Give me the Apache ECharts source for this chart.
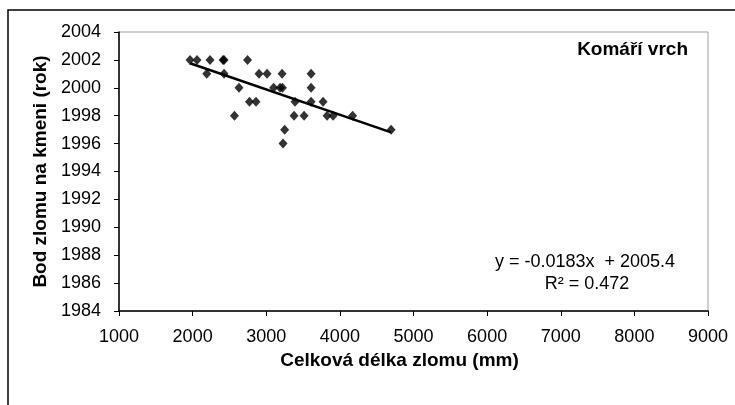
<!DOCTYPE html>
<html>
<head>
<meta charset="utf-8">
<script src="https://cdn.jsdelivr.net/npm/echarts@6/dist/echarts.min.js"></script>
<style>html,body{margin:0;padding:0;background:#fff;}#c{width:735px;height:405px;}</style>
</head>
<body>
<div id="c"></div>
<script>
// Celková délka zlomu (mm)
var breakLength = [1965, 2060, 2236, 2413, 2427, 2746,
                   2192, 2427, 2902, 3011, 3215, 3609,
                   2630, 3100, 3188, 3220, 3609,
                   2772, 2861, 3391, 3609, 3772,
                   2568, 3378, 3514, 3826, 3908, 4173,
                   3250, 4696,
                   3228];
// Bod zlomu na kmeni (rok)
var breakYear = [2002, 2002, 2002, 2002, 2002, 2002,
                 2001, 2001, 2001, 2001, 2001, 2001,
                 2000, 2000, 2000, 2000, 2000,
                 1999, 1999, 1999, 1999, 1999,
                 1998, 1998, 1998, 1998, 1998, 1998,
                 1997, 1997,
                 1996];
var xTicks = [1000, 2000, 3000, 4000, 5000, 6000, 7000, 8000, 9000];
var yTicks = [1984, 1986, 1988, 1990, 1992, 1994, 1996, 1998, 2000, 2002, 2004];
var chartLabel = 'Komáří vrch';
var equationText = 'y = -0.0183x  + 2005.4';
var r2Text = 'R² = 0.472';

var points = breakLength.map(function (x, i) { return [x, breakYear[i]]; });

// least-squares trend line from the data
var n = points.length, sx = 0, sy = 0, sxx = 0, sxy = 0;
points.forEach(function (p) { sx += p[0]; sy += p[1]; sxx += p[0] * p[0]; sxy += p[0] * p[1]; });
var slope = (n * sxy - sx * sy) / (n * sxx - sx * sx);
var intercept = (sy - slope * sx) / n;
var xMin = Math.min.apply(null, breakLength), xMax = Math.max.apply(null, breakLength);
var trend = [[xMin, intercept + slope * xMin], [xMax, intercept + slope * xMax]];

var FONT = '"Liberation Sans", Arial, sans-serif';
var chart = echarts.init(document.getElementById('c'), null, { renderer: 'canvas' });
chart.setOption({
  animation: false,
  backgroundColor: '#fff',
  grid: { left: 119, right: 27, top: 32, bottom: 94, show: true, borderColor: '#a0a0a0', borderWidth: 1, backgroundColor: 'transparent' },
  xAxis: {
    type: 'value', min: xTicks[0], max: xTicks[xTicks.length - 1], interval: 1000,
    name: 'Celková délka zlomu (mm)', nameLocation: 'middle', nameGap: 40,
    nameTextStyle: { fontFamily: FONT, fontSize: 19, fontWeight: 'bold', color: '#000', padding: [0, 28, 0, 0] },
    axisLine: { show: true, onZero: false, lineStyle: { color: '#000', width: 1.5 } },
    axisTick: { show: true, inside: false, length: 5, lineStyle: { color: '#000', width: 1 } },
    axisLabel: { fontFamily: FONT, fontSize: 18, color: '#000', margin: 17, formatter: function (v) { return String(v); } },
    splitLine: { show: false }
  },
  yAxis: {
    type: 'value', min: yTicks[0], max: yTicks[yTicks.length - 1], interval: 2,
    name: 'Bod zlomu na kmeni (rok)', nameLocation: 'middle', nameGap: 66,
    nameTextStyle: { fontFamily: FONT, fontSize: 19, fontWeight: 'bold', color: '#000' },
    axisLine: { show: true, onZero: false, lineStyle: { color: '#000', width: 1.5 } },
    axisTick: { show: true, inside: false, length: 5, lineStyle: { color: '#000', width: 1 } },
    axisLabel: { fontFamily: FONT, fontSize: 18, color: '#000', margin: 18, formatter: function (v) { return String(v); } },
    splitLine: { show: false }
  },
  series: [
    {
      type: 'line', data: trend, showSymbol: false, symbol: 'none',
      lineStyle: { color: '#000', width: 2.5 }, silent: true, z: 2
    },
    {
      type: 'scatter', data: points, symbol: 'diamond', symbolSize: [9, 10],
      itemStyle: { color: '#000' }, z: 3
    }
  ],
  graphic: [
    { type: 'rect', shape: { x: 8, y: 10, width: 800, height: 500 }, style: { fill: 'none', stroke: '#000', lineWidth: 1.5 }, silent: true },
    { type: 'text', x: 688, y: 50, style: { text: chartLabel, fontFamily: FONT, fontSize: 19, fontWeight: 'bold', fill: '#000', textAlign: 'right', textVerticalAlign: 'middle' } },
    { type: 'text', x: 585, y: 262, style: { text: equationText, fontFamily: FONT, fontSize: 18, fill: '#000', textAlign: 'center', textVerticalAlign: 'middle' } },
    { type: 'text', x: 587, y: 284, style: { text: r2Text, fontFamily: FONT, fontSize: 18, fill: '#000', textAlign: 'center', textVerticalAlign: 'middle' } }
  ]
});
</script>
</body>
</html>
